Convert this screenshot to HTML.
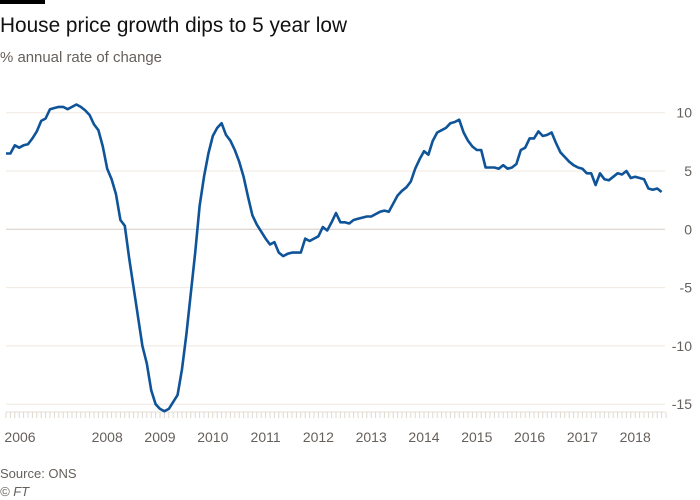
<!DOCTYPE html>
<html><head><meta charset="utf-8"><style>
html,body{margin:0;padding:0;background:#fff;}
svg{display:block;font-family:"Liberation Sans",sans-serif;}
</style></head><body>
<svg id="chart" width="700" height="500" viewBox="0 0 700 500">
<rect x="0" y="0" width="45" height="4" fill="#000"/>
<text x="0" y="32" font-size="21" fill="#111" textLength="347" lengthAdjust="spacingAndGlyphs">House price growth dips to 5 year low</text>
<text x="0" y="62" font-size="14.5" fill="#66605c" textLength="162" lengthAdjust="spacingAndGlyphs">% annual rate of change</text>
<g id="grid"></g>
<g id="xaxis"></g>
<path id="line" fill="none" stroke="#0f5499" stroke-width="2.6" stroke-linejoin="round"></path>
<text x="0" y="478" font-size="13" fill="#66605c">Source: ONS</text>
<text x="0" y="496" font-size="13" fill="#66605c" font-style="italic">© FT</text>
</svg>
<script>
const startYear = 2006;
const startMonth = 2;
const values = [
6.5,6.5,7.2,7.0,7.2,7.3,7.8,8.4,9.3,9.5,10.3,
10.4,10.5,10.5,10.3,10.5,10.7,10.5,10.2,9.8,9.0,8.5,7.1,
5.2,4.3,3.0,0.8,0.3,-2.5,-5.0,-7.5,-10.0,-11.5,-13.8,-15.0,
-15.4,-15.6,-15.4,-14.8,-14.2,-12.0,-9.0,-5.5,-2.0,2.0,4.5,6.5,
8.0,8.7,9.1,8.1,7.6,6.8,5.8,4.5,2.8,1.2,0.4,-0.2,
-0.8,-1.3,-1.1,-2.0,-2.3,-2.1,-2.0,-2.0,-2.0,-0.8,-1.0,-0.8,
-0.6,0.2,-0.1,0.6,1.4,0.6,0.6,0.5,0.8,0.9,1.0,1.1,
1.1,1.3,1.5,1.6,1.5,2.2,2.9,3.3,3.6,4.1,5.2,6.0,
6.7,6.4,7.6,8.3,8.5,8.7,9.1,9.2,9.4,8.3,7.6,7.1,
6.8,6.8,5.3,5.3,5.3,5.2,5.5,5.2,5.3,5.6,6.8,7.0,
7.8,7.8,8.4,8.0,8.1,8.3,7.4,6.6,6.2,5.8,5.5,5.3,
5.2,4.8,4.8,3.8,4.8,4.3,4.2,4.5,4.8,4.7,5.0,4.4,
4.5,4.4,4.3,3.5,3.4,3.5,3.2
];
const yTicks = [10,5,0,-5,-10,-15];
const yearLabels = [2006,2008,2009,2010,2011,2012,2013,2014,2015,2016,2017,2018];

const NS = "http://www.w3.org/2000/svg";
function xScale(t){ return 1.6 + (t - 2006) * 52.8; }
function yScale(v){ return 229.3 - v * 11.66; }
function mk(tag, attrs, parent){ const e=document.createElementNS(NS,tag); for(const k in attrs) e.setAttribute(k,attrs[k]); parent.appendChild(e); return e; }

const grid = document.getElementById('grid');
yTicks.forEach(v=>{
  const l = mk('line',{x1:6,x2:665,y1:yScale(v),y2:yScale(v),stroke:v===0?'#d5cbc2':'#efe8e1','stroke-width':1},grid);
  
  
  const t = mk('text',{x:692,y:yScale(v)+5,'text-anchor':'end','font-size':14,fill:'#66605c'},grid);
  t.textContent = v;
  
  
});

const xa = document.getElementById('xaxis');
const base = mk('line',{x1:6,x2:665,y1:412,y2:412,stroke:'#e6ded6','stroke-width':1},xa);


for(let i=0;;i++){
  const t = 2006 + (startMonth-1+i)/12;
  const x = xScale(t);
  if(x>666) break;
  const tk = mk('line',{x1:x,x2:x,y1:412,y2:418,stroke:'#e0d8d0','stroke-width':1},xa);
  
  
}
yearLabels.forEach(y=>{
  let x = xScale(y);
  const t = mk('text',{x:Math.max(x,6+14),y:442,'text-anchor':'middle','font-size':14,fill:'#66605c'},xa);
  t.textContent = y;
  
  
});

let d = '';
values.forEach((v,i)=>{
  const t = startYear + (startMonth-1+i)/12;
  d += (i?'L':'M') + xScale(t).toFixed(1) + ',' + yScale(v).toFixed(1);
});
document.getElementById('line').setAttribute('d', d);
</script>
</body></html>
